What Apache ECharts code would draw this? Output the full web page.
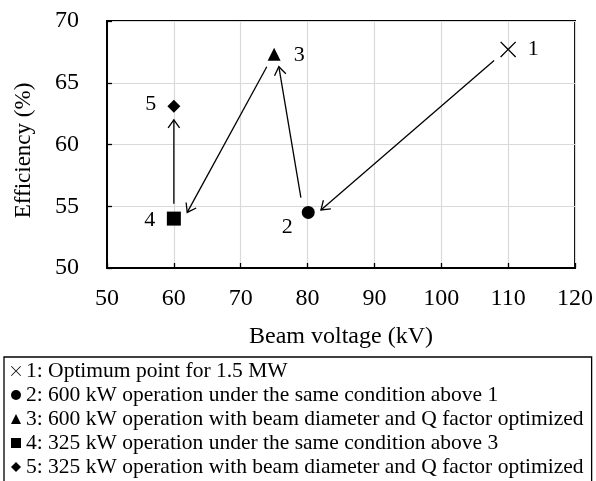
<!DOCTYPE html>
<html>
<head>
<meta charset="utf-8">
<script src="https://cdn.jsdelivr.net/npm/echarts@6/dist/echarts.min.js"></script>
<style>
html,body{margin:0;padding:0;background:#fff;}
#chart{width:596px;height:481px;}
</style>
</head>
<body>
<div id="chart"></div>
<script>
// ---- data ----
var pointNames = [
  '1: Optimum point for 1.5 MW',
  '2: 600 kW operation under the same condition above 1',
  '3: 600 kW operation with beam diameter and Q factor optimized',
  '4: 325 kW operation under the same condition above 3',
  '5: 325 kW operation with beam diameter and Q factor optimized'
];
var pointLabels = ['1', '2', '3', '4', '5'];
var beamVoltage = [110, 80.1, 75, 60, 60];      // kV
var efficiency  = [67.7, 54.5, 67.3, 54.0, 63.1]; // %
// arrows: start and end points (kV, %)
var arrowFromX = [107.9, 79.0, 73.9, 60];
var arrowFromY = [66.8, 55.7, 66.3, 55.2];
var arrowToX   = [82.0, 75.7, 62.0, 60];
var arrowToY   = [54.7, 66.3, 54.5, 62.0];
var xTicks = [50, 60, 70, 80, 90, 100, 110, 120];
var yTicks = [50, 55, 60, 65, 70];

// ---- styles ----
var FONT = "'Liberation Serif','Times New Roman',serif";
var crossPath = 'path://M0,0.6L0.6,0L5,4.4L9.4,0L10,0.6L5.6,5L10,9.4L9.4,10L5,5.6L0.6,10L0,9.4L4.4,5Z';
var symbols = [crossPath, 'circle', 'triangle', 'rect', 'diamond'];
var symbolSizes = [16, 13, 13, 14, 13];
var labelOffsets = [[25, 0], [-21, 15], [25, 1], [-24, 2], [-23, -2]];

var series = pointNames.map(function (name, i) {
  return {
    type: 'scatter',
    name: name,
    symbol: symbols[i],
    symbolSize: symbolSizes[i],
    itemStyle: { color: '#000', opacity: 1 },
    z: 5,
    label: {
      show: true,
      position: 'inside',
      offset: labelOffsets[i],
      formatter: function () { return pointLabels[i]; },
      color: '#000',
      opacity: 1,
      textBorderWidth: 0,
      fontFamily: FONT,
      fontSize: 22
    },
    data: [[beamVoltage[i], efficiency[i]]]
  };
});

series.push({
  type: 'custom',
  name: 'arrows',
  silent: true,
  z: 3,
  renderItem: function (params, api) {
    var p1 = api.coord([api.value(0), api.value(1)]);
    var p2 = api.coord([api.value(2), api.value(3)]);
    var ang = Math.atan2(p2[1] - p1[1], p2[0] - p1[0]);
    var L = 10, A = 35 * Math.PI / 180;
    var h1 = [p2[0] - L * Math.cos(ang - A), p2[1] - L * Math.sin(ang - A)];
    var h2 = [p2[0] - L * Math.cos(ang + A), p2[1] - L * Math.sin(ang + A)];
    return {
      type: 'group',
      children: [
        { type: 'line', shape: { x1: p1[0], y1: p1[1], x2: p2[0], y2: p2[1] },
          style: { stroke: '#000', lineWidth: 1.3 } },
        { type: 'polyline', shape: { points: [h1, p2, h2] },
          style: { stroke: '#000', fill: null, lineWidth: 1.3 } }
      ]
    };
  },
  encode: { x: [0, 2], y: [1, 3] },
  data: arrowFromX.map(function (v, i) {
    return [arrowFromX[i], arrowFromY[i], arrowToX[i], arrowToY[i]];
  })
});

var chart = echarts.init(document.getElementById('chart'), null, { renderer: 'canvas' });
chart.setOption({
  backgroundColor: '#fff',
  animation: false,
  textStyle: { fontFamily: FONT },
  grid: {
    left: 107, right: 15, top: 21, bottom: 213,
    show: true, borderColor: '#000', borderWidth: 2, backgroundColor: 'transparent'
  },
  xAxis: {
    type: 'value',
    min: xTicks[0], max: xTicks[xTicks.length - 1], interval: 10,
    name: 'Beam voltage (kV)',
    nameLocation: 'middle',
    nameGap: 57,
    nameTextStyle: { fontFamily: FONT, fontSize: 24, color: '#000' },
    axisLine: { show: true, lineStyle: { color: '#000', width: 2 } },
    axisTick: { show: true, inside: true, length: 5, lineStyle: { color: '#000', width: 1.3 } },
    axisLabel: { margin: 19, fontFamily: FONT, fontSize: 24, color: '#000' },
    splitLine: { show: true, lineStyle: { color: '#d9d9d9', width: 1.2 } }
  },
  yAxis: {
    type: 'value',
    min: yTicks[0], max: yTicks[yTicks.length - 1], interval: 5,
    name: 'Efficiency (%)',
    nameLocation: 'middle',
    nameGap: 72,
    nameTextStyle: { fontFamily: FONT, fontSize: 23, color: '#000', padding: [0, 12, 0, 0] },
    axisLine: { show: true, lineStyle: { color: '#000', width: 2 } },
    axisTick: { show: true, inside: true, length: 5, lineStyle: { color: '#000', width: 1.3 } },
    axisLabel: { margin: 28, fontFamily: FONT, fontSize: 24, color: '#000' },
    splitLine: { show: true, lineStyle: { color: '#d9d9d9', width: 1.2 } }
  },
  legend: {
    data: pointNames.map(function (n) { return { name: n }; }),
    orient: 'vertical',
    left: 4, top: 357,
    height: 200,
    padding: [3, 8, 4, 7],
    itemWidth: 10, itemHeight: 10,
    itemGap: 2,
    borderColor: '#000', borderWidth: 1.3, borderRadius: 0,
    selectedMode: false,
    itemStyle: { opacity: 1 },
    textStyle: { fontFamily: FONT, fontSize: 21.5, color: '#000' }
  },
  series: series
});
</script>
</body>
</html>
